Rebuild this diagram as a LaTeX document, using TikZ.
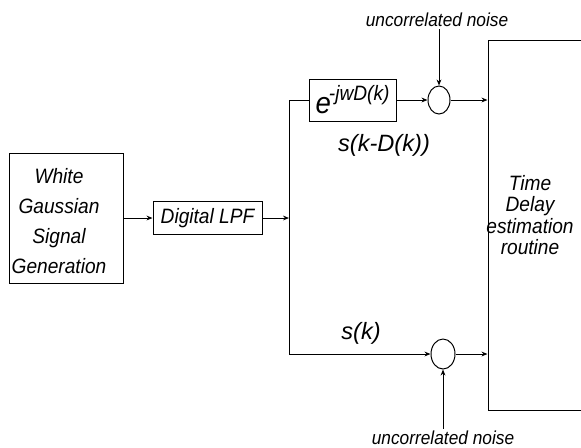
\documentclass[tikz,border=0pt]{standalone}
\usepackage{fontspec}
\setmainfont{Liberation Sans}
\newfontfamily\condfont[FakeStretch=0.92]{Liberation Sans}
\usetikzlibrary{arrows.meta,shapes.geometric}
\begin{document}
\begin{tikzpicture}[x=0.5pt,y=-0.5pt,
  line width=0.5pt,
  >={Stealth[length=3pt,width=2.4pt]},
  box/.style={draw, inner sep=0pt, font=\condfont\itshape\fontsize{10.4}{15}\selectfont},
  txt/.style={inner sep=0pt, align=center, font=\condfont\itshape\fontsize{10.4}{15}\selectfont},
  sumnode/.style={draw, ellipse, minimum width=11pt, minimum height=14pt, inner sep=0pt},
  lbl/.style={inner sep=0pt, font=\itshape\fontsize{11.8}{12}\selectfont},
  noiselbl/.style={inner sep=1pt, font=\condfont\itshape\fontsize{9.4}{10}\selectfont}]
\useasboundingbox (0,0) rectangle (581,447);
\clip (0,0) rectangle (581,447);

% blocks
\node[box, minimum width=57pt, minimum height=65pt] (wgs) at (66,218) {};
\node[txt] (wgstext) at (59,221) {White\\Gaussian\\Signal\\Generation};
\node[box, minimum width=54.5pt, minimum height=16.5pt] (lpf) at (207.5,218) {Digital LPF};
\node[box, minimum width=43.5pt, minimum height=21pt] (exp) at (352.5,100)
  {\fontsize{15}{15}\selectfont e\kern-1pt\raisebox{6.5pt}{\fontsize{10.4}{10}\selectfont -jwD(k)}};
\node[sumnode] (sum1) at (439,100) {};
\node[sumnode, minimum width=12pt, minimum height=15pt] (sum2) at (443,354) {};
\node[draw, minimum width=66pt, minimum height=185pt, inner sep=0pt] (tde) at (554,225) {};
\node[txt, font=\condfont\itshape\fontsize{10.4}{10.8}\selectfont] (tdetext) at (530,215) {Time\\Delay\\estimation\\routine};

% labels
\node[lbl] (lab1) at (384,145) {s(k-D(k))};
\node[lbl] (lab2) at (361,333) {s(k)};
\node[noiselbl] (ntop) at (437,20) {uncorrelated noise};
\node[noiselbl] (nbot) at (443,438) {uncorrelated noise};

% connectors
\coordinate (j) at (289,218);
\draw[->] (wgs.east) -- (lpf.west);
\draw[->] (lpf.east) -- (j);
\draw (j) |- (exp.west);
\draw[->] (j) |- (sum2.west);
\draw[->] (exp.east) -- (sum1.west);
\draw[->] (sum1.east) -- (sum1.east -| tde.west);
\draw[->] (sum2.east) -- (sum2.east -| tde.west);
\draw[->] (ntop.south -| sum1.north) -- (sum1.north);
\draw[->] (nbot.north -| sum2.south) -- (sum2.south);
\end{tikzpicture}
\end{document}
